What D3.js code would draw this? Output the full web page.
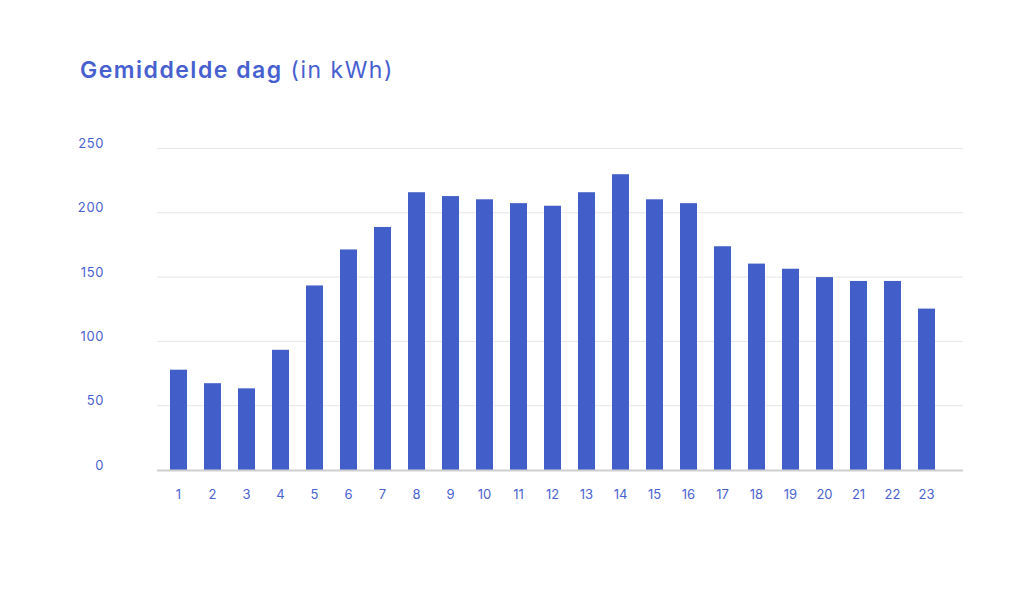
<!DOCTYPE html>
<html><head><meta charset="utf-8">
<script src="https://cdn.jsdelivr.net/npm/d3@7"></script>
<style>body{margin:0;background:#fff}svg{display:block}</style>
</head><body>
<svg id="c" width="1024" height="613"></svg>
<script>
const hours = d3.range(1, 24).map(String);
const values = [78, 67.5, 63.5, 93.5, 143.5, 171.5, 189, 216, 213, 210.5, 207.5, 205.5, 216, 230, 210.5, 207.5, 174, 160.5, 156.5, 150, 147, 147, 125.5];
const yTicks = [0, 50, 100, 150, 200, 250];
const titleBold = "Gemiddelde dag";
const titleLight = " (in kWh)";

const svg = d3.select("#c");
const blue = "#425ec8";
const txt = "#4a62d0";
const font = "Inter, Lato, sans-serif";

const y = d3.scaleLinear().domain([0, 250]).range([470, 148.5]);
const x = d3.scaleBand().domain(hours).range([161.5, 943.5]).paddingInner(0.5).paddingOuter(0.25);

// grid
svg.append("g").selectAll("line").data(yTicks.filter(d => d > 0)).join("line")
  .attr("x1", 157).attr("x2", 963)
  .attr("y1", d => y(d)).attr("y2", d => y(d))
  .attr("stroke", "#e6e6e6").attr("stroke-width", 1);

// y labels
svg.append("g").selectAll("text").data(yTicks).join("text")
  .attr("x", 104).attr("y", d => y(d) - 5)
  .attr("text-anchor", "end").attr("dy", "0.35em")
  .attr("font-family", font).attr("font-size", 13).attr("letter-spacing", 0.6).attr("fill", txt)
  .text(d => d);

// bars
svg.append("g").selectAll("rect").data(values).join("rect")
  .attr("x", (d, i) => x(hours[i]))
  .attr("width", x.bandwidth())
  .attr("y", d => y(d))
  .attr("height", d => y(0) - y(d))
  .attr("fill", blue);

// baseline
svg.append("line").attr("x1", 157).attr("x2", 963).attr("y1", y(0) + 0.5).attr("y2", y(0) + 0.5)
  .attr("stroke", "#cfcfcf").attr("stroke-width", 2);

// x labels
svg.append("g").selectAll("text").data(hours).join("text")
  .attr("x", d => x(d) + x.bandwidth() / 2).attr("y", 494)
  .attr("text-anchor", "middle").attr("dy", "0.35em")
  .attr("font-family", font).attr("font-size", 13).attr("fill", txt)
  .text(d => d);

// title
const t = svg.append("text").attr("x", 80).attr("y", 78)
  .attr("font-family", font).attr("font-size", 23).attr("letter-spacing", 1.5).attr("fill", "#4760d0");
t.append("tspan").attr("font-weight", 600).text(titleBold);
t.append("tspan").attr("font-weight", 400).text(titleLight);
</script>
</body></html>
